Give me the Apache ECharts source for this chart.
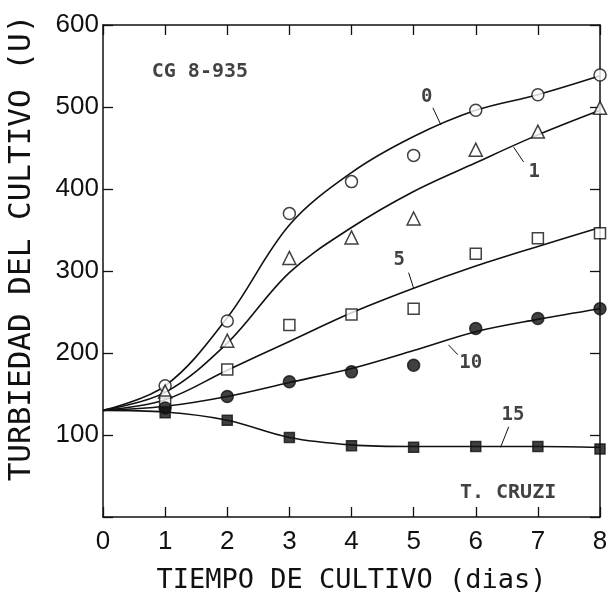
<!DOCTYPE html>
<html>
<head>
<meta charset="utf-8">
<script src="https://cdn.jsdelivr.net/npm/echarts@6/dist/echarts.min.js"></script>
<style>
  html, body { margin: 0; padding: 0; background: #fff; }
  #main { width: 609px; height: 594px; }
</style>
</head>
<body>
<div id="main"></div>
<script>
// dias de cultivo
const days = [0, 1, 2, 3, 4, 5, 6, 7, 8];
const obsDays = [1, 2, 3, 4, 5, 6, 7, 8];

// puntos medidos (turbiedad, U)
const obs0 = [160, 239, 370, 409, 441, 496, 515, 539];
const obs1 = [153, 215, 316, 341, 364, 448, 470, 499];
const obs5 = [141, 180, 234, 247, 254, 321, 340, 346];
const obs10 = [133, 147, 165, 177, 185, 230, 242, 254];
const obs15 = [127, 118, 97, 87, 85, 86, 86, 83];

// curvas ajustadas
const fit0 = [130, 160, 243, 356, 420, 464, 496, 515, 538];
const fit1 = [130, 152, 212, 298, 353, 397, 432, 466, 496];
const fit5 = [130, 143, 179, 214, 249, 279, 306, 330, 353];
const fit10 = [130, 135, 147, 164, 181, 203, 226, 241, 254];
const fit15 = [130, 128, 118, 97, 88, 86, 86, 86, 85];

const yTicks = [100, 200, 300, 400, 500, 600];

// etiquetas de curva: [texto, x, y]
const curveLabels = [['0', 5.21, 512], ['1', 6.94, 421], ['5', 4.77, 313], ['10', 5.92, 188], ['15', 6.6, 124]];
const leaders = [
  [[5.31, 499], [5.44, 478]],
  [[6.61, 451], [6.77, 433]],
  [[4.92, 298], [5.0, 279]],
  [[5.56, 210], [5.71, 198]],
  [[6.53, 110], [6.4, 85]]
];
const notes = [['CG 8-935', 1.56, 543], ['T. CRUZI', 6.52, 30]];

const FONT = 'DejaVu Sans Mono';
const NUMFONT = 'Liberation Sans';
const INK = '#111';

function pairs(xs, ys) {
  return xs.map((x, i) => [x, ys[i]]);
}

const chart = echarts.init(document.getElementById('main'));

const curveStyle = { color: INK, width: 1.6 };
function curve(vals) {
  return {
    type: 'line', data: pairs(days, vals), smooth: 0.35, showSymbol: false,
    lineStyle: curveStyle, itemStyle: { color: INK }, silent: true, z: 2
  };
}
function pts(vals, symbol, size, filled) {
  return {
    type: 'scatter', data: pairs(obsDays, vals), symbol: symbol, symbolSize: size,
    itemStyle: { color: filled ? INK : '#fff', borderColor: INK, borderWidth: 1.5 }, z: 3
  };
}

const tick = { show: true, inside: true, length: 10, lineStyle: { color: INK, width: 1.3 } };
const line = { show: true, onZero: false, lineStyle: { color: INK, width: 1.5 } };

chart.setOption({
  animation: false,
  grid: { left: 103, right: 9, top: 25, bottom: 77, outerBoundsMode: 'none' },
  xAxis: [
    {
      type: 'value', min: 0, max: 8, interval: 1, position: 'bottom',
      name: 'TIEMPO DE CULTIVO (dias)', nameLocation: 'middle', nameGap: 50,
      nameTextStyle: { fontFamily: FONT, fontSize: 27, color: INK },
      axisLine: line, axisTick: tick,
      axisLabel: { fontFamily: NUMFONT, fontSize: 26, color: INK, margin: 12 },
      splitLine: { show: false }
    },
    {
      type: 'value', min: 0, max: 8, interval: 1, position: 'top',
      axisLine: line, axisTick: tick,
      axisLabel: { show: false }, splitLine: { show: false }
    }
  ],
  yAxis: [
    {
      type: 'value', min: 0, max: 600, interval: 100, position: 'left',
      name: 'TURBIEDAD DEL CULTIVO (U)', nameLocation: 'middle', nameGap: 66,
      nameTextStyle: { fontFamily: FONT, fontSize: 31, color: INK, padding: [0, 0, 0, 46] },
      axisLine: line, axisTick: tick,
      axisLabel: {
        fontFamily: NUMFONT, fontSize: 26, color: INK, margin: 4,
        formatter: v => (yTicks.indexOf(v) >= 0 ? String(v) : '')
      },
      splitLine: { show: false }
    },
    {
      type: 'value', min: 0, max: 600, interval: 100, position: 'right',
      axisLine: line, axisTick: tick,
      axisLabel: { show: false }, splitLine: { show: false }
    }
  ],
  series: [
    curve(fit0), curve(fit1), curve(fit5), curve(fit10), curve(fit15),
    pts(obs0, 'circle', 12, false),
    pts(obs1, 'triangle', 13, false),
    pts(obs5, 'rect', 11, false),
    pts(obs10, 'circle', 12, true),
    pts(obs15, 'rect', 10, true),
    {
      type: 'scatter', symbolSize: 0, silent: true, z: 4,
      data: curveLabels.map(d => ({ name: d[0], value: [d[1], d[2]] })),
      label: {
        show: true, position: 'inside', formatter: p => p.name,
        fontFamily: FONT, fontSize: 19, fontWeight: 'bold', color: INK
      },
      markLine: {
        silent: true, symbol: 'none', animation: false,
        lineStyle: { color: INK, width: 1, type: 'solid' },
        label: { show: false },
        data: leaders.map(l => [{ coord: l[0] }, { coord: l[1] }])
      }
    },
    {
      type: 'scatter', symbolSize: 0, silent: true, z: 4,
      data: notes.map(d => ({ name: d[0], value: [d[1], d[2]] })),
      label: {
        show: true, position: 'inside', formatter: p => p.name,
        fontFamily: FONT, fontSize: 20, fontWeight: 'bold', color: INK
      }
    }
  ]
});
</script>
</body>
</html>
